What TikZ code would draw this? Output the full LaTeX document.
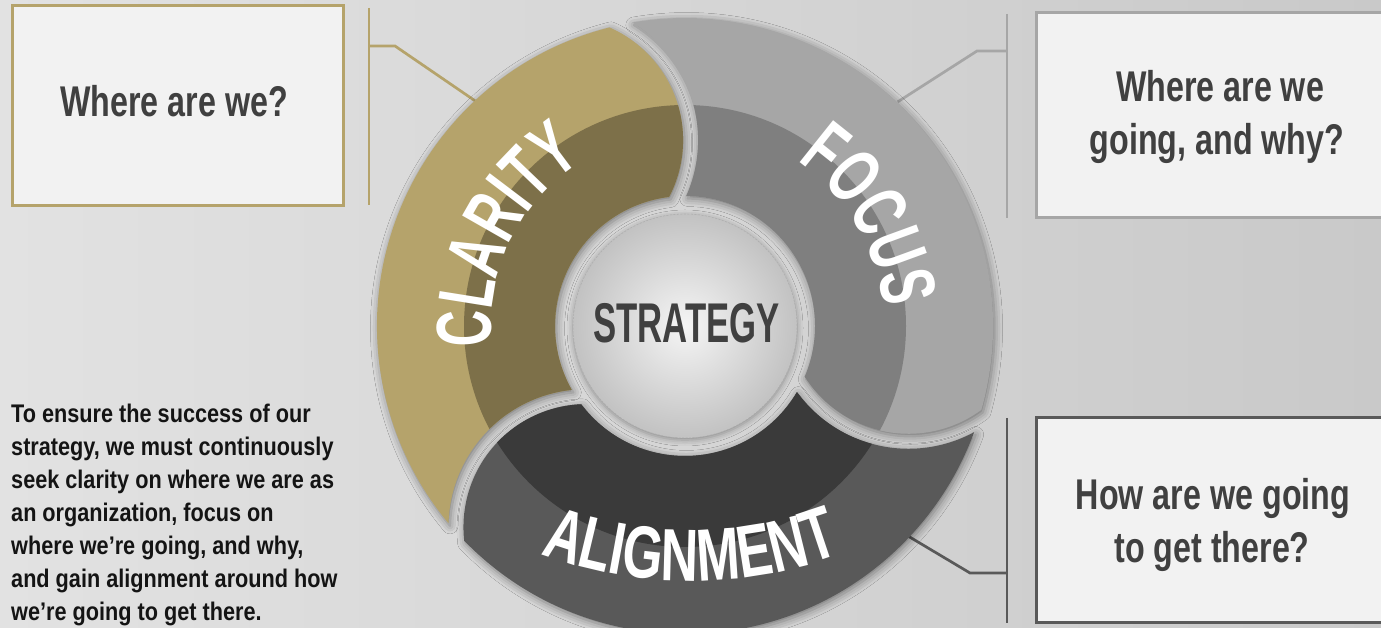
\documentclass[tikz,border=0pt]{standalone}
\usepackage{fontspec}
\setmainfont{Liberation Sans}
\newfontfamily\boxfont[FakeStretch=0.75]{Liberation Sans}
\newfontfamily\parafont[FakeStretch=0.85]{Liberation Sans}
\newfontfamily\arcfont[FakeStretch=0.645]{Liberation Sans}
\newfontfamily\arcwidefont[FakeStretch=0.70]{Liberation Sans}
\newfontfamily\corefont[FakeStretch=0.62]{Liberation Sans}
\usetikzlibrary{calc,decorations.text,shadows.blur}

\definecolor{bgL}{HTML}{E2E2E2}
\definecolor{bgR}{HTML}{C9C9C9}
\definecolor{goldL}{HTML}{B5A36B}
\definecolor{goldD}{HTML}{7D7049}
\definecolor{focL}{HTML}{A6A6A6}
\definecolor{focD}{HTML}{7F7F7F}
\definecolor{aliL}{HTML}{595959}
\definecolor{aliD}{HTML}{3A3A3A}
\definecolor{boxfill}{HTML}{F2F2F2}
\definecolor{ink}{HTML}{404040}
\definecolor{coreIn}{HTML}{F5F5F5}
\definecolor{coreOut}{HTML}{C2C2C2}

% outline of one wheel segment; #1 = angle of the junction at its head
\newcommand\segshape[1]{({#1-19.70}:308)
  arc[start angle={#1-19.70}, end angle={#1+95.94}, radius=308]
  arc[start angle={#1+54.51}, end angle={#1-27.81}, radius=138]
  arc[start angle={#1+85.56}, end angle={#1-26.88}, radius=130]
  arc[start angle={#1-151.46}, end angle={#1-57.56}, radius=123] -- cycle}

\tikzset{
  qbox/.style={draw=#1, line width=3pt, fill=boxfill, inner sep=0pt},
  qtext/.style={font=\boxfont\bfseries\fontsize{43}{53}\selectfont, text=ink, anchor=base, inner sep=0pt},
  ptext/.style={font=\parafont\bfseries\fontsize{25.5}{33}\selectfont, text=black!92, anchor=base west, inner sep=0pt},
  link/.style={draw=#1, line width=2.7pt},
  segshadow/.style={blur shadow={shadow xshift=1.5pt, shadow yshift=-2.5pt, shadow blur radius=8pt, shadow opacity=45}},
  arclabel/.style={decorate, decoration={text along path, text align=center, text color=white, text={#1}}}
}

\begin{document}
\begin{tikzpicture}[x=1pt,y=1pt]
\useasboundingbox (0,0) rectangle (1381,628);
\shade[left color=bgL, right color=bgR] (0,0) rectangle (1381,628);

\coordinate (O) at (685,302);

% question boxes
\node[qbox=goldL, minimum width=331pt, minimum height=200pt] (b1) at (177.5,522) {};
\node[qbox=focL, minimum width=356pt, minimum height=205pt] (b2) at (1214,512.5) {};
\node[qbox=aliL, minimum width=356pt, minimum height=205pt] (b3) at (1214,107.5) {};

\node[qtext] (t1) at (174,511) {Where are we?};
\node[qtext] (t2a) at (1220,526) {Where are we};
\node[qtext] (t2b) at (1217,473) {going, and why?};
\node[qtext] (t3a) at (1213,118) {How are we going};
\node[qtext] (t3b) at (1212,65) {to get there?};

% bracket connectors
\coordinate (c1t) at (369,620); \coordinate (c1b) at (369,423);
\coordinate (c1m) at (369,582); \coordinate (c1k) at (395,582);
\coordinate (c1w) at ($(O)+(133:308)$);
\draw[link=goldL] (c1t) -- (c1b);
\draw[link=goldL] (c1m) -- (c1k) -- (c1w);

\coordinate (c2t) at (1007,614); \coordinate (c2b) at (1007,410);
\coordinate (c2m) at (1007,577); \coordinate (c2k) at (977,577);
\coordinate (c2w) at ($(O)+(46.5:309)$);
\draw[link=focL] (c2t) -- (c2b);
\draw[link=focL] (c2m) -- (c2k) -- (c2w);

\coordinate (c3t) at (1007,210); \coordinate (c3b) at (1007,5);
\coordinate (c3m) at (1007,55); \coordinate (c3k) at (970,55);
\coordinate (c3w) at ($(O)+(-43.3:306)$);
\draw[link=aliL] (c3t) -- (c3b);
\draw[link=aliL] (c3m) -- (c3k) -- (c3w);

% paragraph
\node[ptext] (p1) at (11,205) {To ensure the success of our};
\node[ptext] (p2) at (11,172) {strategy, we must continuously};
\node[ptext] (p3) at (11,139) {seek clarity on where we are as};
\node[ptext] (p4) at (11,106) {an organization, focus on};
\node[ptext] (p5) at (11,73) {where we’re going, and why,};
\node[ptext] (p6) at (11,40) {and gain alignment around how};
\node[ptext] (p7) at (11,7) {we’re going to get there.};

% the wheel
\begin{scope}[shift={(O)}]
  \foreach \J in {123.9,3.9,243.9} {\path[segshadow] \segshape{\J};}
  \fill[goldL] \segshape{123.9};
  \begin{scope}\clip \segshape{123.9}; \fill[goldD] (0,0) circle[radius=221];\end{scope}
  \fill[focL] \segshape{3.9};
  \begin{scope}\clip \segshape{3.9}; \fill[focD] (0,0) circle[radius=221];\end{scope}
  \fill[aliL] \segshape{243.9};
  \begin{scope}\clip \segshape{243.9}; \fill[aliD] (0,0) circle[radius=221];\end{scope}

  \node[circle, minimum size=224pt, inner sep=0pt, inner color=coreIn, outer color=coreOut,
        draw=gray!65, line width=0.5pt, dash pattern=on 2pt off 1.5pt,
        blur shadow={shadow xshift=0pt, shadow yshift=-2pt, shadow blur radius=6pt, shadow opacity=35}] (core) at (0,0) {};
  \node[font=\corefont\bfseries\fontsize{56}{56}\selectfont, text=ink, inner sep=0pt] (strat) at (1.5,3) {STRATEGY};

  \path[arclabel={|\arcfont\bfseries\fontsize{78}{78}\selectfont|CLARITY}]
    (204:194) arc[start angle=204, end angle=104, radius=194];
  \path[arclabel={|\arcfont\bfseries\fontsize{78}{78}\selectfont|FOCUS}]
    (80.5:199) arc[start angle=80.5, end angle=-19.5, radius=199];
\end{scope}
\path[arclabel={|\arcwidefont\bfseries\fontsize{74}{74}\selectfont|ALIGNMENT}]
  (415.9,147.1) arc[start angle=230, end angle=310, radius=428];
\end{tikzpicture}
\end{document}
